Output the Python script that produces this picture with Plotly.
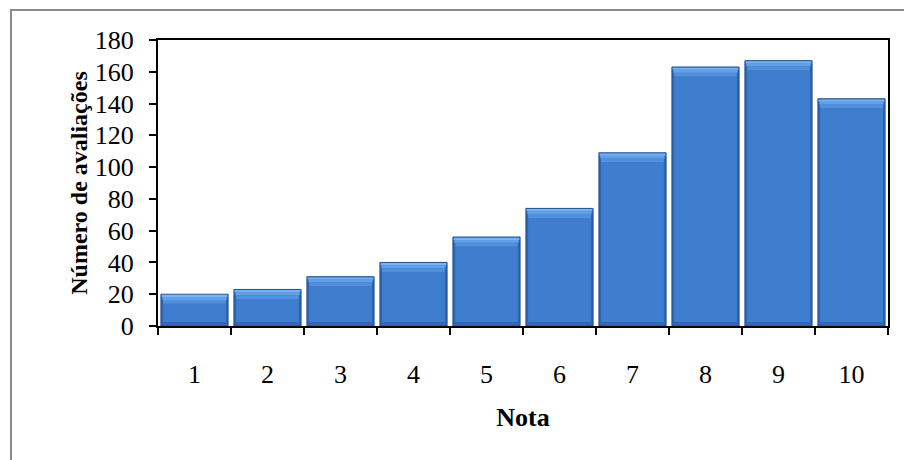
import plotly.graph_objects as go

# Distribution of ratings
notas = ["1", "2", "3", "4", "5", "6", "7", "8", "9", "10"]
avaliacoes = [20, 23, 31, 40, 56, 74, 109, 163, 167, 143]

# Bevel depths (in y-axis units) used to fake the 3D bar look
TOP_BEVEL = 6.0
BOTTOM_BEVEL = 2.5

FONT = "Liberation Serif, Times New Roman, serif"

fig = go.Figure()


def strip(base, height, width, color):
    """Overlay bar segment used to build the bevelled bars."""
    fig.add_trace(go.Bar(
        x=notas, y=height, base=base, width=width,
        marker=dict(color=color, line=dict(width=0)),
        hoverinfo="skip", showlegend=False,
    ))


# Outer bar: the darker side edges and outline
fig.add_trace(go.Bar(
    x=notas, y=avaliacoes, width=0.92,
    marker=dict(color="#2F66B0", line=dict(color="#21508F", width=1)),
    hoverinfo="skip", showlegend=False,
))

n = len(notas)
# Bottom bevel strip (slightly darker)
strip([0.3] * n, [BOTTOM_BEVEL] * n, 0.86, "#3168B2")

# Bar body
fig.add_trace(go.Bar(
    x=notas,
    y=[v - TOP_BEVEL - BOTTOM_BEVEL for v in avaliacoes],
    base=[BOTTOM_BEVEL] * n,
    width=0.86,
    marker=dict(color="#3F7ECE", line=dict(width=0)),
    hovertemplate="Nota %{x}: %{customdata}<extra></extra>",
    customdata=avaliacoes, showlegend=False,
))

# Top bevel: graded highlight
strip([v - TOP_BEVEL for v in avaliacoes], [TOP_BEVEL * 0.4] * n, 0.86, "#5190DC")
strip([v - TOP_BEVEL * 0.6 for v in avaliacoes], [TOP_BEVEL * 0.3] * n, 0.88, "#64A0E8")
strip([v - TOP_BEVEL * 0.3 for v in avaliacoes], [TOP_BEVEL * 0.3 - 0.4] * n, 0.90, "#7AB3F1")

fig.update_layout(
    width=904, height=460,
    margin=dict(l=158, r=16, t=40, b=134),
    paper_bgcolor="white", plot_bgcolor="white",
    barmode="overlay",
    font=dict(family=FONT, size=26, color="black"),
    xaxis=dict(
        type="category",
        showline=True, linecolor="black", linewidth=2, mirror=True,
        ticks="outside", tickson="boundaries", ticklen=7, tickwidth=2, tickcolor="black",
        ticklabelstandoff=24,
        showgrid=False, zeroline=False,
        tickfont=dict(family=FONT, size=26),
        title=dict(text="<b>Nota</b>", font=dict(family=FONT, size=26), standoff=20),
        automargin=False,
    ),
    yaxis=dict(
        range=[0, 180], dtick=20,
        showline=True, linecolor="black", linewidth=2, mirror=True,
        ticks="outside", ticklen=7, tickwidth=2, tickcolor="black",
        ticklabelstandoff=10,
        showgrid=False, zeroline=False,
        tickfont=dict(family=FONT, size=26),
        title=dict(text="<b>Número de avaliações</b>", font=dict(family=FONT, size=24), standoff=0),
        automargin=False,
    ),
    shapes=[
        # Outer chart frame
        dict(type="rect", xref="paper", yref="paper",
             x0=-0.2014, x1=1.05, y0=-0.55, y1=1.105,
             line=dict(color="#8C8C8C", width=2), fillcolor="rgba(0,0,0,0)", layer="below"),
    ],
)

fig.write_html("out.html")
